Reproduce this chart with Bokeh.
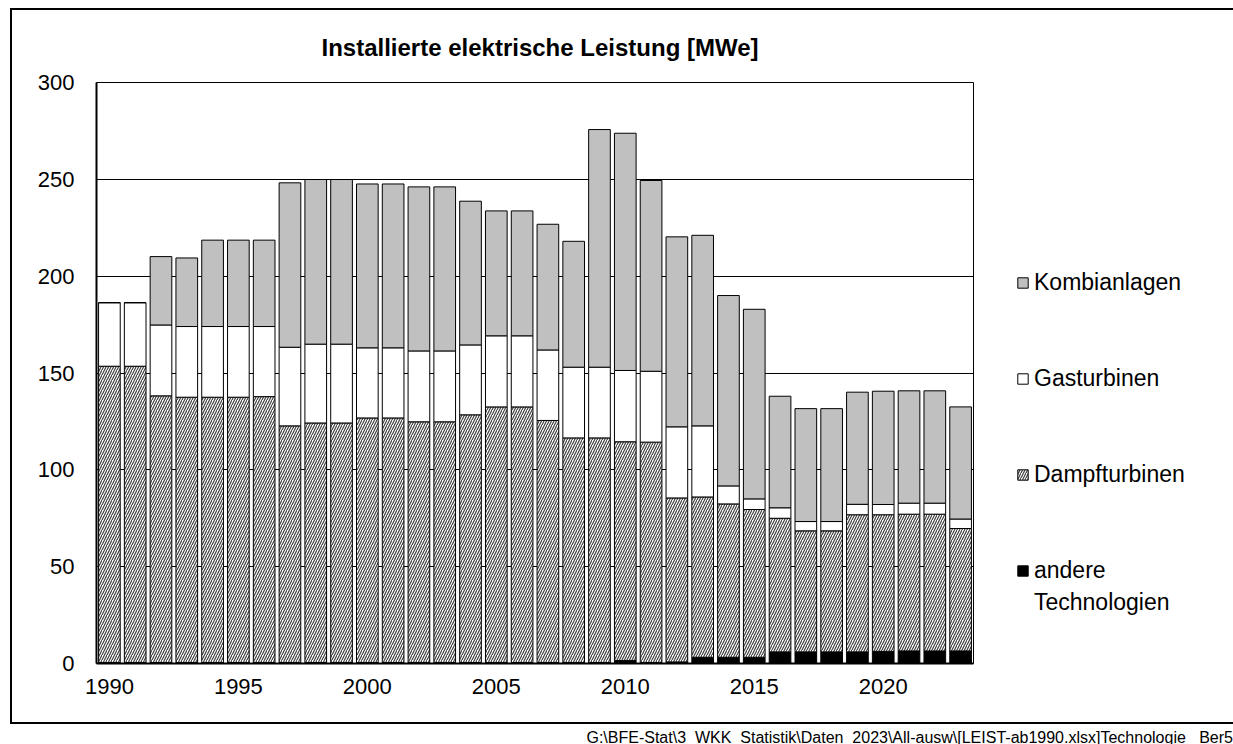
from bokeh.plotting import figure
from bokeh.models import (ColumnDataSource, Range1d, Legend, LegendItem, Div,
                          FixedTicker)
from bokeh.layouts import column
from bokeh.embed import file_html
from bokeh.resources import INLINE
import numpy as np

# ---------------- data (MWe) ----------------
years = list(range(1990, 2024))
andere = [0.5, 0.5, 0.5, 0.5, 0.5, 0.5, 0.5, 0.5, 0.5, 0.5,
          0.5, 0.5, 0.5, 0.5, 0.5, 0.5, 0.5, 0.5, 0.5, 0.5,
          1.5, 0.5, 0.8, 3.2, 3.2, 3.2, 6.0, 6.0, 6.0, 6.0,
          6.3, 6.5, 6.5, 6.5]
dampf = [153.0, 153.0, 137.7, 137.0, 137.0, 137.0, 137.3, 122.2, 123.7, 123.7,
         126.3, 126.3, 124.3, 124.3, 127.9, 132.0, 132.0, 125.0, 116.0, 116.0,
         113.0, 113.8, 84.7, 82.8, 79.2, 76.3, 69.0, 62.5, 62.5, 70.8,
         70.5, 70.6, 70.6, 63.2]
gas = [32.8, 32.8, 36.6, 36.5, 36.5, 36.5, 36.2, 40.6, 40.7, 40.7,
       36.2, 36.2, 36.6, 36.6, 36.1, 36.7, 36.7, 36.4, 36.5, 36.5,
       36.8, 36.6, 36.7, 36.7, 9.3, 5.5, 5.4, 4.8, 4.8, 5.4,
       5.3, 5.7, 5.7, 4.9]
kombi = [0.0, 0.0, 35.3, 35.4, 44.6, 44.6, 44.6, 84.9, 85.0, 85.0,
         84.6, 84.6, 84.7, 84.7, 74.2, 64.5, 64.5, 64.9, 65.0, 122.7,
         122.5, 98.5, 98.1, 98.4, 98.3, 97.9, 57.6, 58.3, 58.3, 57.9,
         58.5, 58.0, 58.0, 57.9]
y_ticks = [0, 50, 100, 150, 200, 250, 300]
x_ticks = [1990, 1995, 2000, 2005, 2010, 2015, 2020]
title_text = "Installierte elektrische Leistung  [MWe]"
footer_text = r"G:\BFE-Stat\3  WKK  Statistik\Daten  2023\All-ausw\[LEIST-ab1990.xlsx]Technologie   Ber5"

# ---------------- stacked table ----------------
stack = np.vstack([andere, dampf, gas, kombi])
tops = np.cumsum(stack, axis=0)
bottoms = tops - stack
src = ColumnDataSource(dict(
    year=years,
    b0=bottoms[0], t0=tops[0],
    b1=bottoms[1], t1=tops[1],
    b2=bottoms[2], t2=tops[2],
    b3=bottoms[3], t3=tops[3],
))

FONT = "Liberation Sans"

p = figure(frame_width=877, frame_height=581,
           output_backend="svg", toolbar_location=None,
           x_range=Range1d(1989.5, 2023.5), y_range=Range1d(0, 300),
           min_border_left=84, min_border_right=258,
           min_border_top=72, min_border_bottom=59)
p.margin = (10, 2, 0, 12)
p.background_fill_color = "white"
p.border_fill_color = "white"
p.outline_line_color = "black"
p.outline_line_width = 1
p.styles = {"box-shadow": "0 0 0 2px black"}

# title
p.title.text = title_text
p.title.align = "left"
p.title.offset = 225
p.title.vertical_align = "middle"
p.title.standoff = 41
p.title.text_font = FONT
p.title.text_font_style = "bold"
p.title.text_font_size = "24px"
p.title.text_color = "black"

bw = 0.84
common = dict(x="year", width=bw, source=src, line_color="black", line_width=1)
r_andere = p.vbar(bottom="b0", top="t0", fill_color="black", **common)
r_dampf = p.vbar(bottom="b1", top="t1", fill_color="white",
                 hatch_pattern="/", hatch_scale=5, hatch_weight=1.2,
                 hatch_color="#404040", **common)
r_gas = p.vbar(bottom="b2", top="t2", fill_color="white", **common)
r_kombi = p.vbar(bottom="b3", top="t3", fill_color="#c0c0c0", **common)
# invisible renderer used only for spacer / continuation rows of the legend
r_blank = p.vbar(x=[], top=[], width=0.5, fill_alpha=0, line_alpha=0)

# axes
p.yaxis.ticker = FixedTicker(ticks=y_ticks)
p.xaxis.ticker = FixedTicker(ticks=x_ticks)
for ax in (p.xaxis[0], p.yaxis[0]):
    ax.axis_line_color = "black"
    ax.axis_line_width = 2
    ax.major_tick_line_color = None
    ax.minor_tick_line_color = None
    ax.major_tick_out = 0
    ax.major_tick_in = 0
    ax.major_label_text_font = FONT
    ax.major_label_text_font_size = "22px"
    ax.major_label_text_color = "black"
p.yaxis.major_label_standoff = 22
p.xaxis.major_label_standoff = 15

p.xgrid.grid_line_color = None
p.ygrid.ticker = FixedTicker(ticks=y_ticks)
p.ygrid.grid_line_color = "black"
p.ygrid.grid_line_width = 1

# legend (rows of 32 px; blank rows give the wide spacing)
def blank():
    return LegendItem(label=" ", renderers=[r_blank])

legend = Legend(items=[
    LegendItem(label="Kombianlagen", renderers=[r_kombi]), blank(), blank(),
    LegendItem(label="Gasturbinen", renderers=[r_gas]), blank(), blank(),
    LegendItem(label="Dampfturbinen", renderers=[r_dampf]), blank(), blank(),
    LegendItem(label="andere", renderers=[r_andere]),
    LegendItem(label="Technologien", renderers=[r_blank]),
], location="top_left", orientation="vertical",
    title=" ", title_text_font_size="10px", title_standoff=130,
    border_line_color=None, background_fill_color=None,
    glyph_width=13, glyph_height=13, label_standoff=5,
    label_height=32, spacing=0, padding=0, margin=43,
    label_text_font=FONT, label_text_font_size="23px",
    label_text_color="black")
p.add_layout(legend, "right")

footer = Div(text=footer_text, width=1233, height=22,
             styles={"font-family": FONT, "font-size": "16px",
                     "text-align": "right", "color": "black",
                     "white-space": "pre", "line-height": "22px",
                     "padding-right": "5px", "box-sizing": "border-box",
                     "width": "1233px"})

layout = column(p, footer, spacing=0)
open("out.html", "w").write(file_html(layout, INLINE))
